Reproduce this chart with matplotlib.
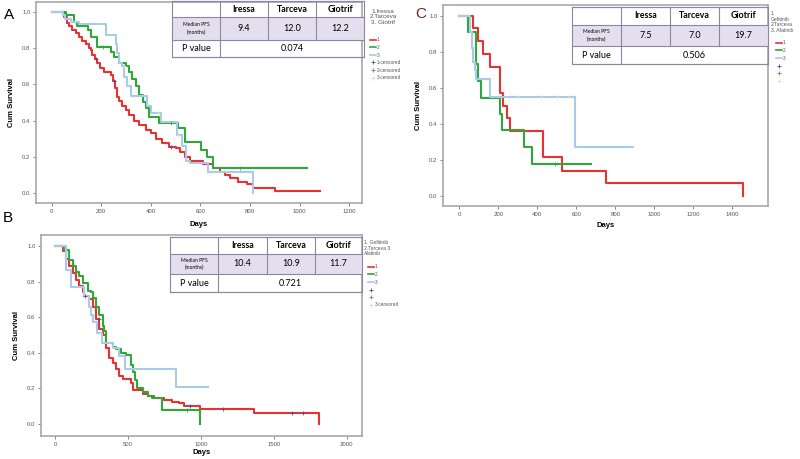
import matplotlib
matplotlib.use('Agg')
import matplotlib.pyplot as plt
from matplotlib.lines import Line2D
from matplotlib.patches import Rectangle
import numpy as np

plt.rcParams['font.family'] = ['Liberation Sans', 'DejaVu Sans']

W, H = 800, 459
RED = '#e8322f'
GREEN = '#2fa83a'
BLUE = '#a8cbe8'
CENS = ['#4a4d9e', '#3aa83a', '#d5e6a2']

drugs = ['Iressa', 'Tarceva', 'Giotrif']

# ---- panel A ----
a_red_t = [0, 44, 50, 63, 70, 83, 97, 110, 124, 137, 150, 157, 164, 177, 184, 197, 211, 238, 248, 255,
           265, 272, 285, 299, 312, 333, 353, 380, 400, 420, 447, 474, 501, 517, 537, 558, 612, 652, 679, 700,
           720, 753, 787, 811, 901, 1083]
a_red_s = [1.0, 0.99, 0.97, 0.94, 0.92, 0.90, 0.88, 0.86, 0.84, 0.82, 0.80, 0.79, 0.76, 0.74, 0.72, 0.69, 0.67, 0.65, 0.62, 0.58,
           0.53, 0.51, 0.48, 0.46, 0.43, 0.40, 0.376, 0.35, 0.33, 0.30, 0.275, 0.257, 0.248, 0.23, 0.20, 0.18, 0.16, 0.138, 0.12, 0.10,
           0.085, 0.064, 0.05, 0.03, 0.014, 0.014]
a_green_t = [0, 58, 91, 104, 145, 158, 185, 239, 252, 272, 299, 313, 326, 340, 353, 367, 380, 394, 434, 511,
             538, 602, 625, 650, 1029]
a_green_s = [1.0, 0.98, 0.945, 0.92, 0.90, 0.86, 0.807, 0.78, 0.75, 0.72, 0.70, 0.67, 0.63, 0.59, 0.54, 0.50, 0.47, 0.42, 0.385, 0.358,
             0.284, 0.24, 0.20, 0.138, 0.138]
a_blue_t = [0, 44, 54, 80, 110, 218, 258, 265, 272, 285, 292, 306, 319, 385, 400, 440, 504, 524, 542, 560, 631, 811]
a_blue_s = [1.0, 0.98, 0.96, 0.945, 0.93, 0.87, 0.82, 0.77, 0.72, 0.70, 0.64, 0.59, 0.536, 0.48, 0.44, 0.39, 0.32, 0.26, 0.18, 0.165, 0.116, 0.0]
a_cens = [[178, 250, 480], [208, 480, 760], [290, 430, 510]]
a_median = ['9.4', '12.0', '12.2']
a_p = '0.074'

# ---- panel B ----
b_red_t = [0, 53, 75, 98, 121, 144, 167, 190, 201, 236, 259, 281, 304, 327, 350, 373, 396, 419, 441, 464,
           521, 533, 600, 640, 681, 749, 800, 850, 884, 994, 1364, 1812]
b_red_s = [1.0, 0.97, 0.93, 0.89, 0.85, 0.81, 0.775, 0.74, 0.72, 0.70, 0.66, 0.59, 0.535, 0.50, 0.43, 0.37, 0.345, 0.31, 0.27, 0.255,
           0.229, 0.19, 0.17, 0.16, 0.145, 0.135, 0.125, 0.116, 0.10, 0.086, 0.064, 0.0]
b_green_t = [0, 64, 98, 121, 144, 167, 190, 224, 247, 258, 281, 304, 327, 338, 350, 396, 418, 453, 487, 520,
             533, 548, 560, 601, 640, 665, 735, 994]
b_green_s = [1.0, 0.98, 0.92, 0.89, 0.855, 0.83, 0.79, 0.75, 0.74, 0.71, 0.66, 0.61, 0.55, 0.52, 0.453, 0.435, 0.42, 0.40, 0.39, 0.33,
             0.29, 0.25, 0.20, 0.18, 0.16, 0.145, 0.08, 0.0]
b_blue_t = [0, 75, 110, 200, 235, 250, 260, 290, 320, 400, 440, 480, 830, 1051]
b_blue_s = [1.0, 0.865, 0.77, 0.72, 0.66, 0.61, 0.575, 0.51, 0.455, 0.43, 0.38, 0.31, 0.21, 0.21]
b_cens = [[205, 300, 925, 1154, 1623, 1702], [908], []]
b_median = ['10.4', '10.9', '11.7']
b_p = '0.721'

# ---- panel C ----
c_red_t = [0, 68, 97, 123, 157, 209, 226, 243, 260, 427, 528, 750, 1453]
c_red_s = [1.0, 0.93, 0.86, 0.79, 0.715, 0.57, 0.50, 0.43, 0.36, 0.215, 0.14, 0.07, 0.0]
c_green_t = [0, 46, 85, 97, 111, 209, 217, 332, 371, 675]
c_green_s = [1.0, 0.91, 0.73, 0.64, 0.545, 0.455, 0.365, 0.27, 0.18, 0.18]
c_blue_t = [0, 55, 63, 68, 78, 87, 156, 592, 889]
c_blue_s = [1.0, 0.91, 0.82, 0.745, 0.70, 0.65, 0.55, 0.273, 0.273]
c_cens = [[], [490], [300, 420, 500, 560]]
c_median = ['7.5', '7.0', '19.7']
c_p = '0.506'


def fx(x):
    return x / W


def fy(y):
    return 1 - y / H


def surv_at(t, s, x):
    idx = np.searchsorted(t, x, side='right') - 1
    return np.asarray(s)[idx]


def km_panel(fig, rect, curves, cens, xlim, ylim, xticks, days_y):
    l, r, t, b = rect
    ax = fig.add_axes([fx(l), fy(b), fx(r) - fx(l), fy(t) - fy(b)])
    for (tt, ss), col in zip(curves, [RED, GREEN, BLUE]):
        ax.step(tt, ss, where='post', color=col, lw=1.5)
    for (tt, ss), ct, col in zip(curves, cens, CENS):
        if ct:
            ax.plot(ct, surv_at(tt, ss, ct), ls='none', marker='+', color=col, ms=3.5, mew=0.6)
    ax.set_xlim(*xlim)
    ax.set_ylim(*ylim)
    ax.set_xticks(xticks)
    ax.set_yticks([0, 0.2, 0.4, 0.6, 0.8, 1.0])
    ax.set_yticklabels(['0.0', '0.2', '0.4', '0.6', '0.8', '1.0'])
    ax.tick_params(labelsize=4.3, length=2, width=0.5, colors='#555555', pad=2)
    for sp in ax.spines.values():
        sp.set_color('#a8a8a8')
        sp.set_linewidth(1.2)
    ax.set_ylabel('Cum Survival', fontsize=5.5, fontweight='bold')
    ax.yaxis.set_label_coords(-0.065, 0.5)
    fig.text(fx((l + r) / 2), fy(days_y), 'Days', fontsize=5.5, fontweight='bold',
             ha='center', va='center')
    return ax


def draw_table(fig, xs, ys, medians, pval):
    border = '#8d84a6'
    # median row fill
    fig.add_artist(Rectangle((fx(xs[0]), fy(ys[2])), fx(xs[-1]) - fx(xs[0]), fy(ys[1]) - fy(ys[2]),
                             transform=fig.transFigure, facecolor='#e4dfee', edgecolor='none'))
    for y in [ys[0], ys[3]]:
        fig.add_artist(Rectangle((fx(xs[0]), fy(y)), fx(xs[-1]) - fx(xs[0]), 0,
                                 transform=fig.transFigure, fill=False, edgecolor=border, lw=0.8))
    for y in ys:
        fig.add_artist(Line2D([fx(xs[0]), fx(xs[-1])], [fy(y), fy(y)], transform=fig.transFigure,
                              color=border, lw=0.8))
    for i, x in enumerate(xs):
        y_end = ys[3] if i in (0, 1, 4) else ys[2]
        fig.add_artist(Line2D([fx(x), fx(x)], [fy(ys[0]), fy(y_end)], transform=fig.transFigure,
                              color=border, lw=0.8))
    tf = dict(family=['Lato', 'DejaVu Sans'], ha='center', va='center')
    for i, name in enumerate(drugs):
        cx = (xs[i + 1] + xs[i + 2]) / 2
        fig.text(fx(cx), fy((ys[0] + ys[1]) / 2), name, fontsize=6.3, fontweight='bold', **tf)
        fig.text(fx(cx), fy((ys[1] + ys[2]) / 2), medians[i], fontsize=6.5, **tf)
    fig.text(fx((xs[0] + xs[1]) / 2), fy((ys[1] + ys[2]) / 2), 'Median PFS\n(months)',
             fontsize=3.6, linespacing=1.5, **tf)
    fig.text(fx((xs[0] + xs[1]) / 2), fy((ys[2] + ys[3]) / 2), 'P value', fontsize=6.5, **tf)
    fig.text(fx((xs[1] + xs[4]) / 2), fy((ys[2] + ys[3]) / 2), pval, fontsize=6.5, **tf)


def draw_legend(fig, x, y, labels):
    handles = [Line2D([], [], color=RED, lw=1.2), Line2D([], [], color=GREEN, lw=1.2),
               Line2D([], [], color=BLUE, lw=1.2)]
    handles += [Line2D([], [], ls='none', marker='+', color=c, ms=3.5, mew=0.6) for c in CENS]
    fig.legend(handles, labels, loc='upper left', bbox_to_anchor=(fx(x), fy(y)),
               bbox_transform=fig.transFigure, frameon=False, fontsize=3.4,
               handlelength=1.2, handletextpad=0.2, labelspacing=0.55, borderpad=0,
               labelcolor='#555555')


fig = plt.figure(figsize=(8, 4.59), dpi=100)

km_panel(fig, (36, 362, 2, 203),
         [(a_red_t, a_red_s), (a_green_t, a_green_s), (a_blue_t, a_blue_s)], a_cens,
         (-63, 1252), (-0.053, 1.053), [0, 200, 400, 600, 800, 1000, 1200], 224)
km_panel(fig, (41, 362, 235, 436),
         [(b_red_t, b_red_s), (b_green_t, b_green_s), (b_blue_t, b_blue_s)], b_cens,
         (-96, 2105), (-0.067, 1.062), [0, 500, 1000, 1500, 2000], 453)
km_panel(fig, (443, 768, 5, 206),
         [(c_red_t, c_red_s), (c_green_t, c_green_s), (c_blue_t, c_blue_s)], c_cens,
         (-84, 1583), (-0.055, 1.059), [0, 200, 400, 600, 800, 1000, 1200, 1400], 225)

draw_table(fig, [172, 220, 268, 316, 364], [1, 17, 40, 57], a_median, a_p)
draw_table(fig, [170, 218, 267, 315, 362], [237, 254, 274, 292], b_median, b_p)
draw_table(fig, [572, 621, 670, 719, 768], [7, 25, 46, 64], c_median, c_p)

fig.text(fx(383), fy(17), '1.Iressa\n2.Tarceva\n3. Giotrif', fontsize=4.6, color='#555555',
         ha='center', va='center', linespacing=1.1)
draw_legend(fig, 368, 35, ['1', '2', '3', '1-censored', '2-censored', '3-censored'])
fig.text(fx(364), fy(248), '1. Gefitinib\n2.Tarceva 3.\nAfatinib', fontsize=3.6, color='#555555',
         ha='left', va='center', linespacing=1.1)
draw_legend(fig, 366, 262, ['1', '2', '3', '', '', '3-censored'])
fig.text(fx(771), fy(22), '1.\nGefitinib\n2.Tarceva\n3. Afatinib', fontsize=3.6, color='#555555',
         ha='left', va='center', linespacing=1.1)
draw_legend(fig, 774, 38, ['1', '2', '3', '', '', ''])

fig.text(fx(9), fy(15), 'A', fontsize=11, ha='center', va='center')
fig.text(fx(8), fy(218), 'B', fontsize=11, ha='center', va='center')
fig.text(fx(421), fy(14), 'C', fontsize=11, ha='center', va='center', color='#7b1f1f')

fig.savefig('out.png', dpi=100)
